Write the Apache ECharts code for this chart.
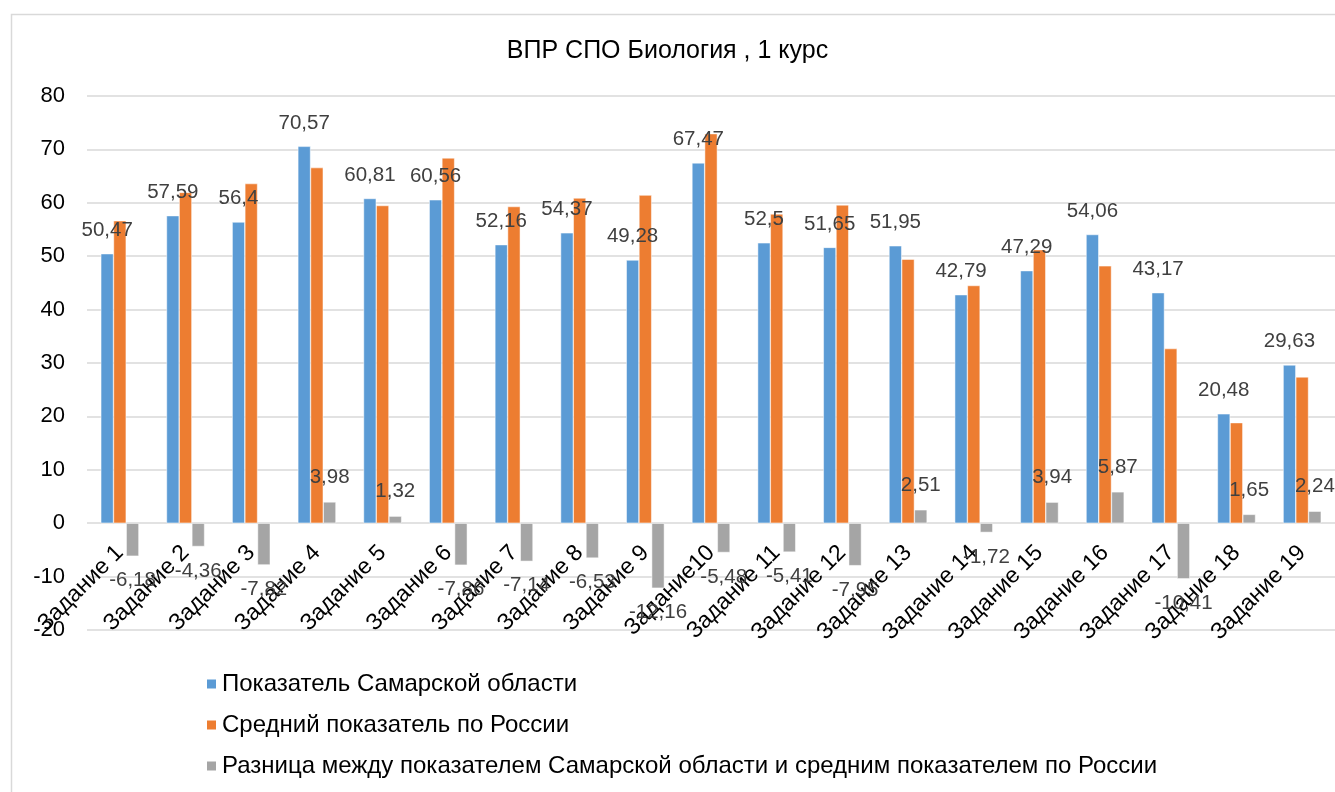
<!DOCTYPE html>
<html>
<head>
<meta charset="utf-8">
<script src="https://cdn.jsdelivr.net/npm/echarts@6/dist/echarts.min.js"></script>
<style>
html,body{margin:0;padding:0;background:#fff;}
#main{width:1335px;height:792px;}
</style>
</head>
<body>
<div id="main"></div>
<script>
var categories = ['Задание 1','Задание 2','Задание 3','Задание 4','Задание 5','Задание 6','Задание 7','Задание 8','Задание 9','Задание10',
	'Задание 11','Задание 12','Задание 13','Задание 14','Задание 15','Задание 16','Задание 17','Задание 18','Задание 19'];
var samara = [50.47,57.59,56.4,70.57,60.81,60.56,52.16,54.37,49.28,67.47,52.5,51.65,51.95,42.79,47.29,54.06,43.17,20.48,29.63];//Самарская обл.
var russia = [56.65,61.95,63.6,66.59,59.49,68.4,59.3,60.9,61.44,72.95,57.91,59.6,49.44,44.51,51.23,48.19,32.7,18.83,27.39];//Россия
var diff = [-6.18,-4.36,-7.82,3.98,1.32,-7.86,-7.14,-6.53,-12.16,-5.48,-5.41,-7.95,2.51,-1.72,3.94,5.87,-10.41,1.65,2.24];//разница
var seriesNames = ['Показатель Самарской области','Средний показатель по России','Разница между показателем Самарской области и средним показателем по России'];

var myChart = echarts.init(document.getElementById('main'));
var fnt = 'Liberation Sans, Arial, sans-serif';
function fmt(p){
	return String(p.value).replace('.', ',');
}
// grid 96..630 для -20..80, ось категорий на нуле
var gridTop = 96, gridBottomY = 630, yMin = -20, yMax = 80;
var zeroOffset = -(0 - yMin) / (yMax - yMin) * (gridBottomY - gridTop);
var option = {
	animation:false,
	textStyle:{fontFamily:fnt},
	graphic:[{
		type:'rect',
		left:9, top:12,
		shape:{width:1400, height:900},
		style:{fill:'none', stroke:'#d9d9d9', lineWidth:1.5},
		silent:true
	}],
	title:{
		text:'ВПР СПО Биология , 1 курс',
		left:'center',
		top:34,
		textStyle:{fontFamily:fnt, fontSize:25, fontWeight:'normal', color:'#000'}
	},
	legend:{
		orient:'vertical',
		left:200,
		top:667,
		itemWidth:11,
		itemHeight:11,
		itemGap:17,
		icon:'rect',
		textStyle:{fontFamily:fnt, fontSize:24, color:'#000'},
		data:seriesNames
	},
	grid:{left:87, right:0, top:gridTop, bottom:792 - gridBottomY},
	xAxis:{
		type:'category',
		data:categories,
		position:'bottom',
		offset:zeroOffset,
		axisLine:{show:false, onZero:false},
		axisTick:{show:false},
		axisLabel:{interval:0, rotate:45, margin:26, fontSize:23, color:'#000', fontFamily:fnt}
	},
	yAxis:{
		type:'value',
		min:yMin, max:yMax, interval:10,
		axisLine:{show:false},
		axisTick:{show:false},
		axisLabel:{fontSize:22, color:'#000', margin:22, fontFamily:fnt},
		splitLine:{lineStyle:{color:'#d9d9d9', width:1.5}}
	},
	series:[
		{
			name:seriesNames[0],
			type:'bar',
			data:samara,
			barGap:'0%',
			barCategoryGap:'42%',
			itemStyle:{color:'#5B9BD5', borderColor:'#fff', borderWidth:0.5},
			label:{show:true, position:'top', distance:13, fontSize:20.5, color:'#404040', formatter:fmt}
		},
		{
			name:seriesNames[1],
			type:'bar',
			data:russia,
			itemStyle:{color:'#ED7D31', borderColor:'#fff', borderWidth:0.5}
		},
		{
			name:seriesNames[2],
			type:'bar',
			data:diff.map(function(v){
				return {value:v, label:{position: v < 0 ? 'bottom' : 'top'}};
			}),
			itemStyle:{color:'#A5A5A5', borderColor:'#fff', borderWidth:0.5},
			label:{show:true, distance:14, fontSize:20.5, color:'#404040', formatter:fmt}
		}
	]
};
myChart.setOption(option);
</script>
</body>
</html>
